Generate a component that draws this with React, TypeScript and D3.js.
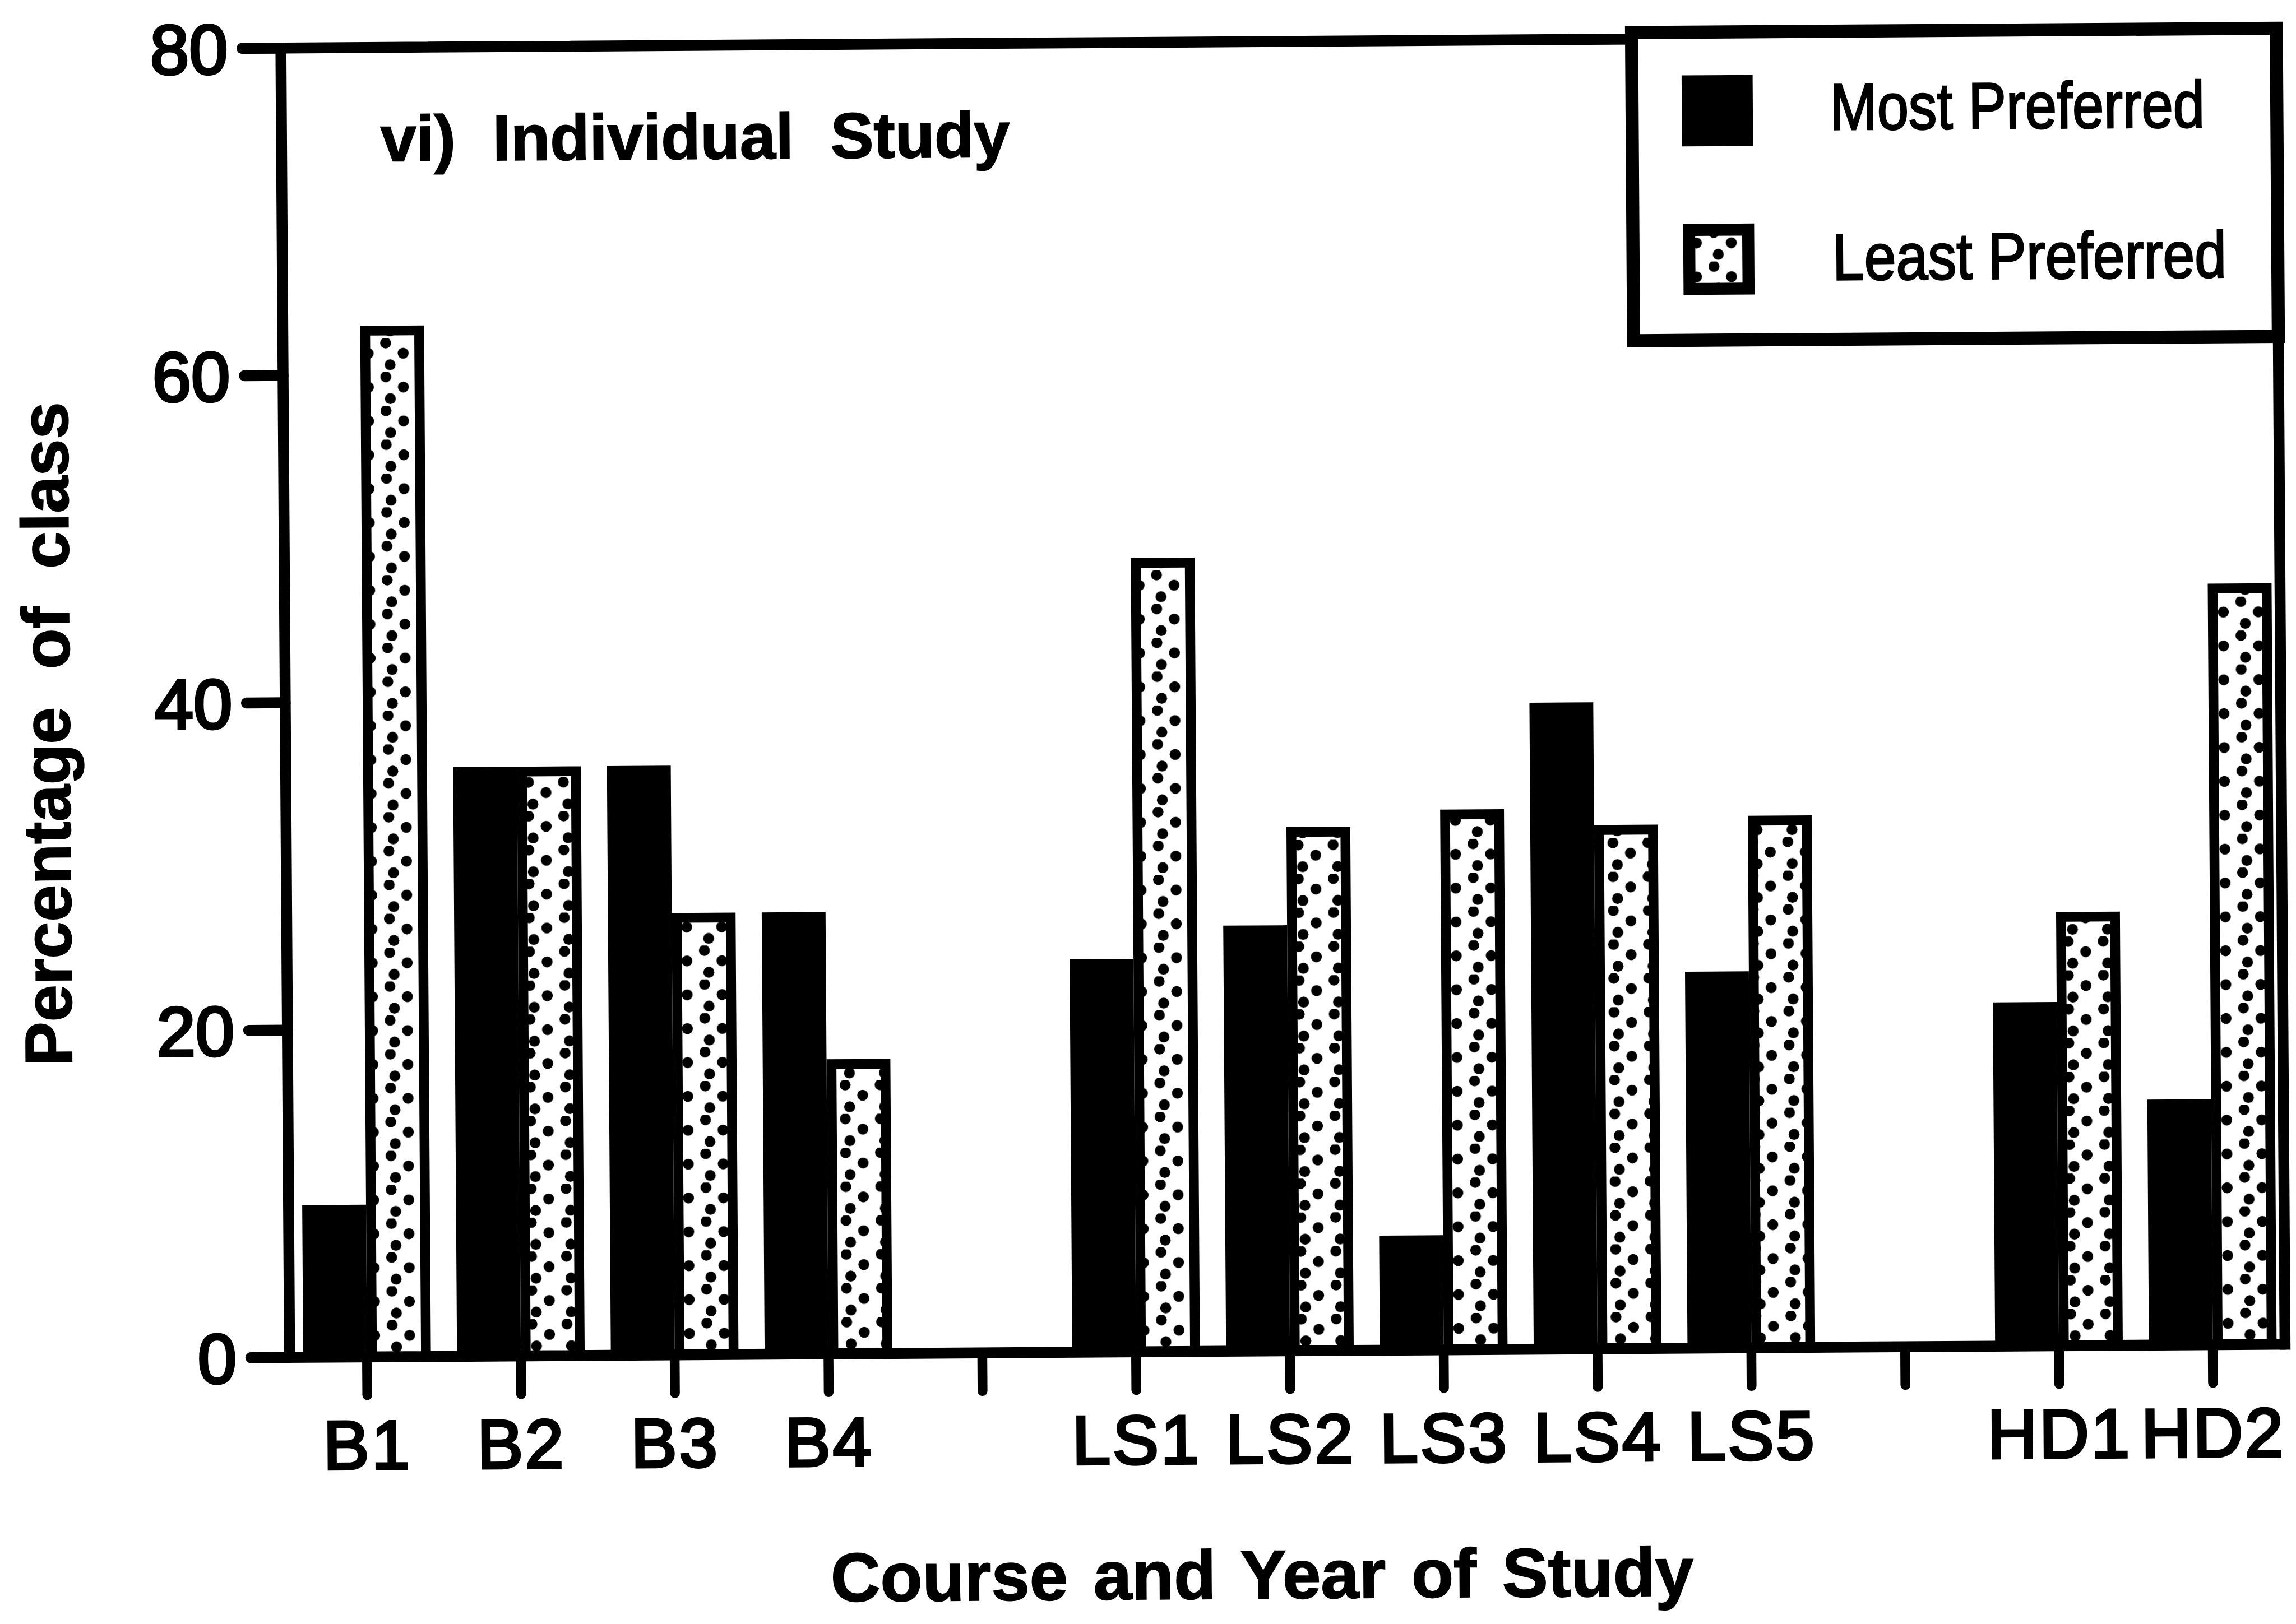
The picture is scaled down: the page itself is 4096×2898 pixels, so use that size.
import React from "react";
import * as d3 from "d3";

// Course / year groups along the x axis; null marks an empty spacer slot.
const categories: (string | null)[] = [
  "B1", "B2", "B3", "B4", null,
  "LS1", "LS2", "LS3", "LS4", "LS5", null,
  "HD1", "HD2",
];

// Percentage of class choosing individual study as most / least preferred.
const mostPreferred: (number | null)[] = [9.3, 36, 36, 27, null, 24, 26, 7, 39.5, 23, null, 21, 15];
const leastPreferred: (number | null)[] = [63, 36, 27, 18, null, 48.5, 32, 33, 32, 32.5, null, 26.5, 46.5];

const yTicks = [0, 20, 40, 60, 80];
const seriesNames = ["Most Preferred", "Least Preferred"];
const chartTitle = "vi) Individual Study";
const xTitle = "Course and Year of Study";
const yTitle = "Percentage of class";

const FONT = "'Liberation Sans', Arial, Helvetica, sans-serif";

export default function App() {
  const W = 4202;
  const H = 2973;
  const left = 530;
  const right = 4182;
  const top = 88;
  const base = 2485;
  const step = 281.5;
  const LINE = 20;
  const BORDER = 18;

  const x = d3
    .scaleBand<number>()
    .domain(d3.range(categories.length))
    .range([531, 531 + categories.length * step])
    .paddingInner(0.17)
    .paddingOuter(0.085);
  const y = d3.scaleLinear().domain([0, 80]).range([base, top]);
  const bw = x.bandwidth();
  const half = bw / 2;
  const center = (i: number) => (x(i) as number) + half;

  return (
    <svg
      width={4096}
      height={2898}
      viewBox={`0 0 ${W} ${H}`}
      style={{ position: "absolute", left: 0, top: 0, display: "block" }}
    >
      <defs>
        <pattern id="dots" patternUnits="userSpaceOnUse" width={64} height={62}>
          <rect width={64} height={62} fill="#fff" />
          <circle cx={14} cy={9} r={10} fill="#000" />
          <circle cx={46} cy={28} r={10} fill="#000" />
          <circle cx={22} cy={49} r={10} fill="#000" />
        </pattern>
      </defs>
      <rect width={W} height={H} fill="#fff" />

      <g transform={`rotate(-0.38 ${left} ${base})`} fontFamily={FONT}>
        {/* bars */}
        {categories.map((c, i) => {
          if (c === null) return null;
          const m = mostPreferred[i] as number;
          const l = leastPreferred[i] as number;
          const x0 = x(i) as number;
          return (
            <g key={c}>
              <rect x={x0} y={y(m)} width={half} height={base - y(m)} fill="#000" />
              <rect
                x={x0 + half + BORDER / 2}
                y={y(l) + BORDER / 2}
                width={half - BORDER}
                height={base - y(l) - BORDER / 2}
                fill="url(#dots)"
                stroke="#000"
                strokeWidth={BORDER}
              />
            </g>
          );
        })}

        {/* frame and axes */}
        <line x1={459} x2={right} y1={top} y2={top} stroke="#000" strokeWidth={LINE} strokeLinecap="round" />
        <line x1={460} x2={right} y1={base} y2={base} stroke="#000" strokeWidth={LINE} strokeLinecap="round" />
        <line x1={left} x2={left} y1={top} y2={base} stroke="#000" strokeWidth={LINE} />
        <line x1={right} x2={right} y1={top} y2={base + LINE / 2} stroke="#000" strokeWidth={LINE} />

        {/* y ticks and labels */}
        {yTicks.map((t) => (
          <g key={t}>
            <line x1={459} x2={left} y1={y(t)} y2={y(t)} stroke="#000" strokeWidth={LINE} strokeLinecap="round" />
            <text
              x={433}
              y={y(t) + 46}
              textAnchor="end"
              fontSize={128}
              stroke="#000"
              strokeWidth={5}
            >
              {t}
            </text>
          </g>
        ))}

        {/* x ticks and labels */}
        {categories.map((c, i) => (
          <g key={`t${i}`}>
            <line
              x1={center(i)}
              x2={center(i)}
              y1={base}
              y2={base + 70}
              stroke="#000"
              strokeWidth={18}
              strokeLinecap="round"
            />
            {c !== null && (
              <text
                x={center(i)}
                y={2690}
                textAnchor="middle"
                fontSize={126}
                letterSpacing={4}
                stroke="#000"
                strokeWidth={5}
              >
                {c}
              </text>
            )}
          </g>
        ))}

        {/* title inside the plot */}
        <text x={711} y={296} fontSize={118} fontWeight="bold" wordSpacing={35} stroke="#000" strokeWidth={2}>
          {chartTitle}
        </text>

        {/* axis titles */}
        <text
          x={2307}
          y={2938}
          textAnchor="middle"
          fontSize={126}
          fontWeight="bold"
          wordSpacing={12}
          stroke="#000"
          strokeWidth={2}
        >
          {xTitle}
        </text>
        <text
          transform={`translate(135 1341) rotate(-90)`}
          textAnchor="middle"
          fontSize={122}
          fontWeight="bold"
          wordSpacing={35}
          stroke="#000"
          strokeWidth={2}
        >
          {yTitle}
        </text>

        {/* legend */}
        <rect x={3002} y={76} width={right - 3002} height={564} fill="#fff" stroke="#000" strokeWidth={24} />
        <rect x={3093} y={155} width={130} height={130} fill="#000" />
        <rect x={3105} y={438} width={108} height={108} fill="url(#dots)" stroke="#000" strokeWidth={22} />
        <text
          x={3364}
          y={256}
          fontSize={120}
          textLength={686}
          lengthAdjust="spacingAndGlyphs"
          stroke="#000"
          strokeWidth={3}
        >
          {seriesNames[0]}
        </text>
        <text
          x={3367}
          y={531}
          fontSize={120}
          textLength={721}
          lengthAdjust="spacingAndGlyphs"
          stroke="#000"
          strokeWidth={3}
        >
          {seriesNames[1]}
        </text>
      </g>
    </svg>
  );
}
